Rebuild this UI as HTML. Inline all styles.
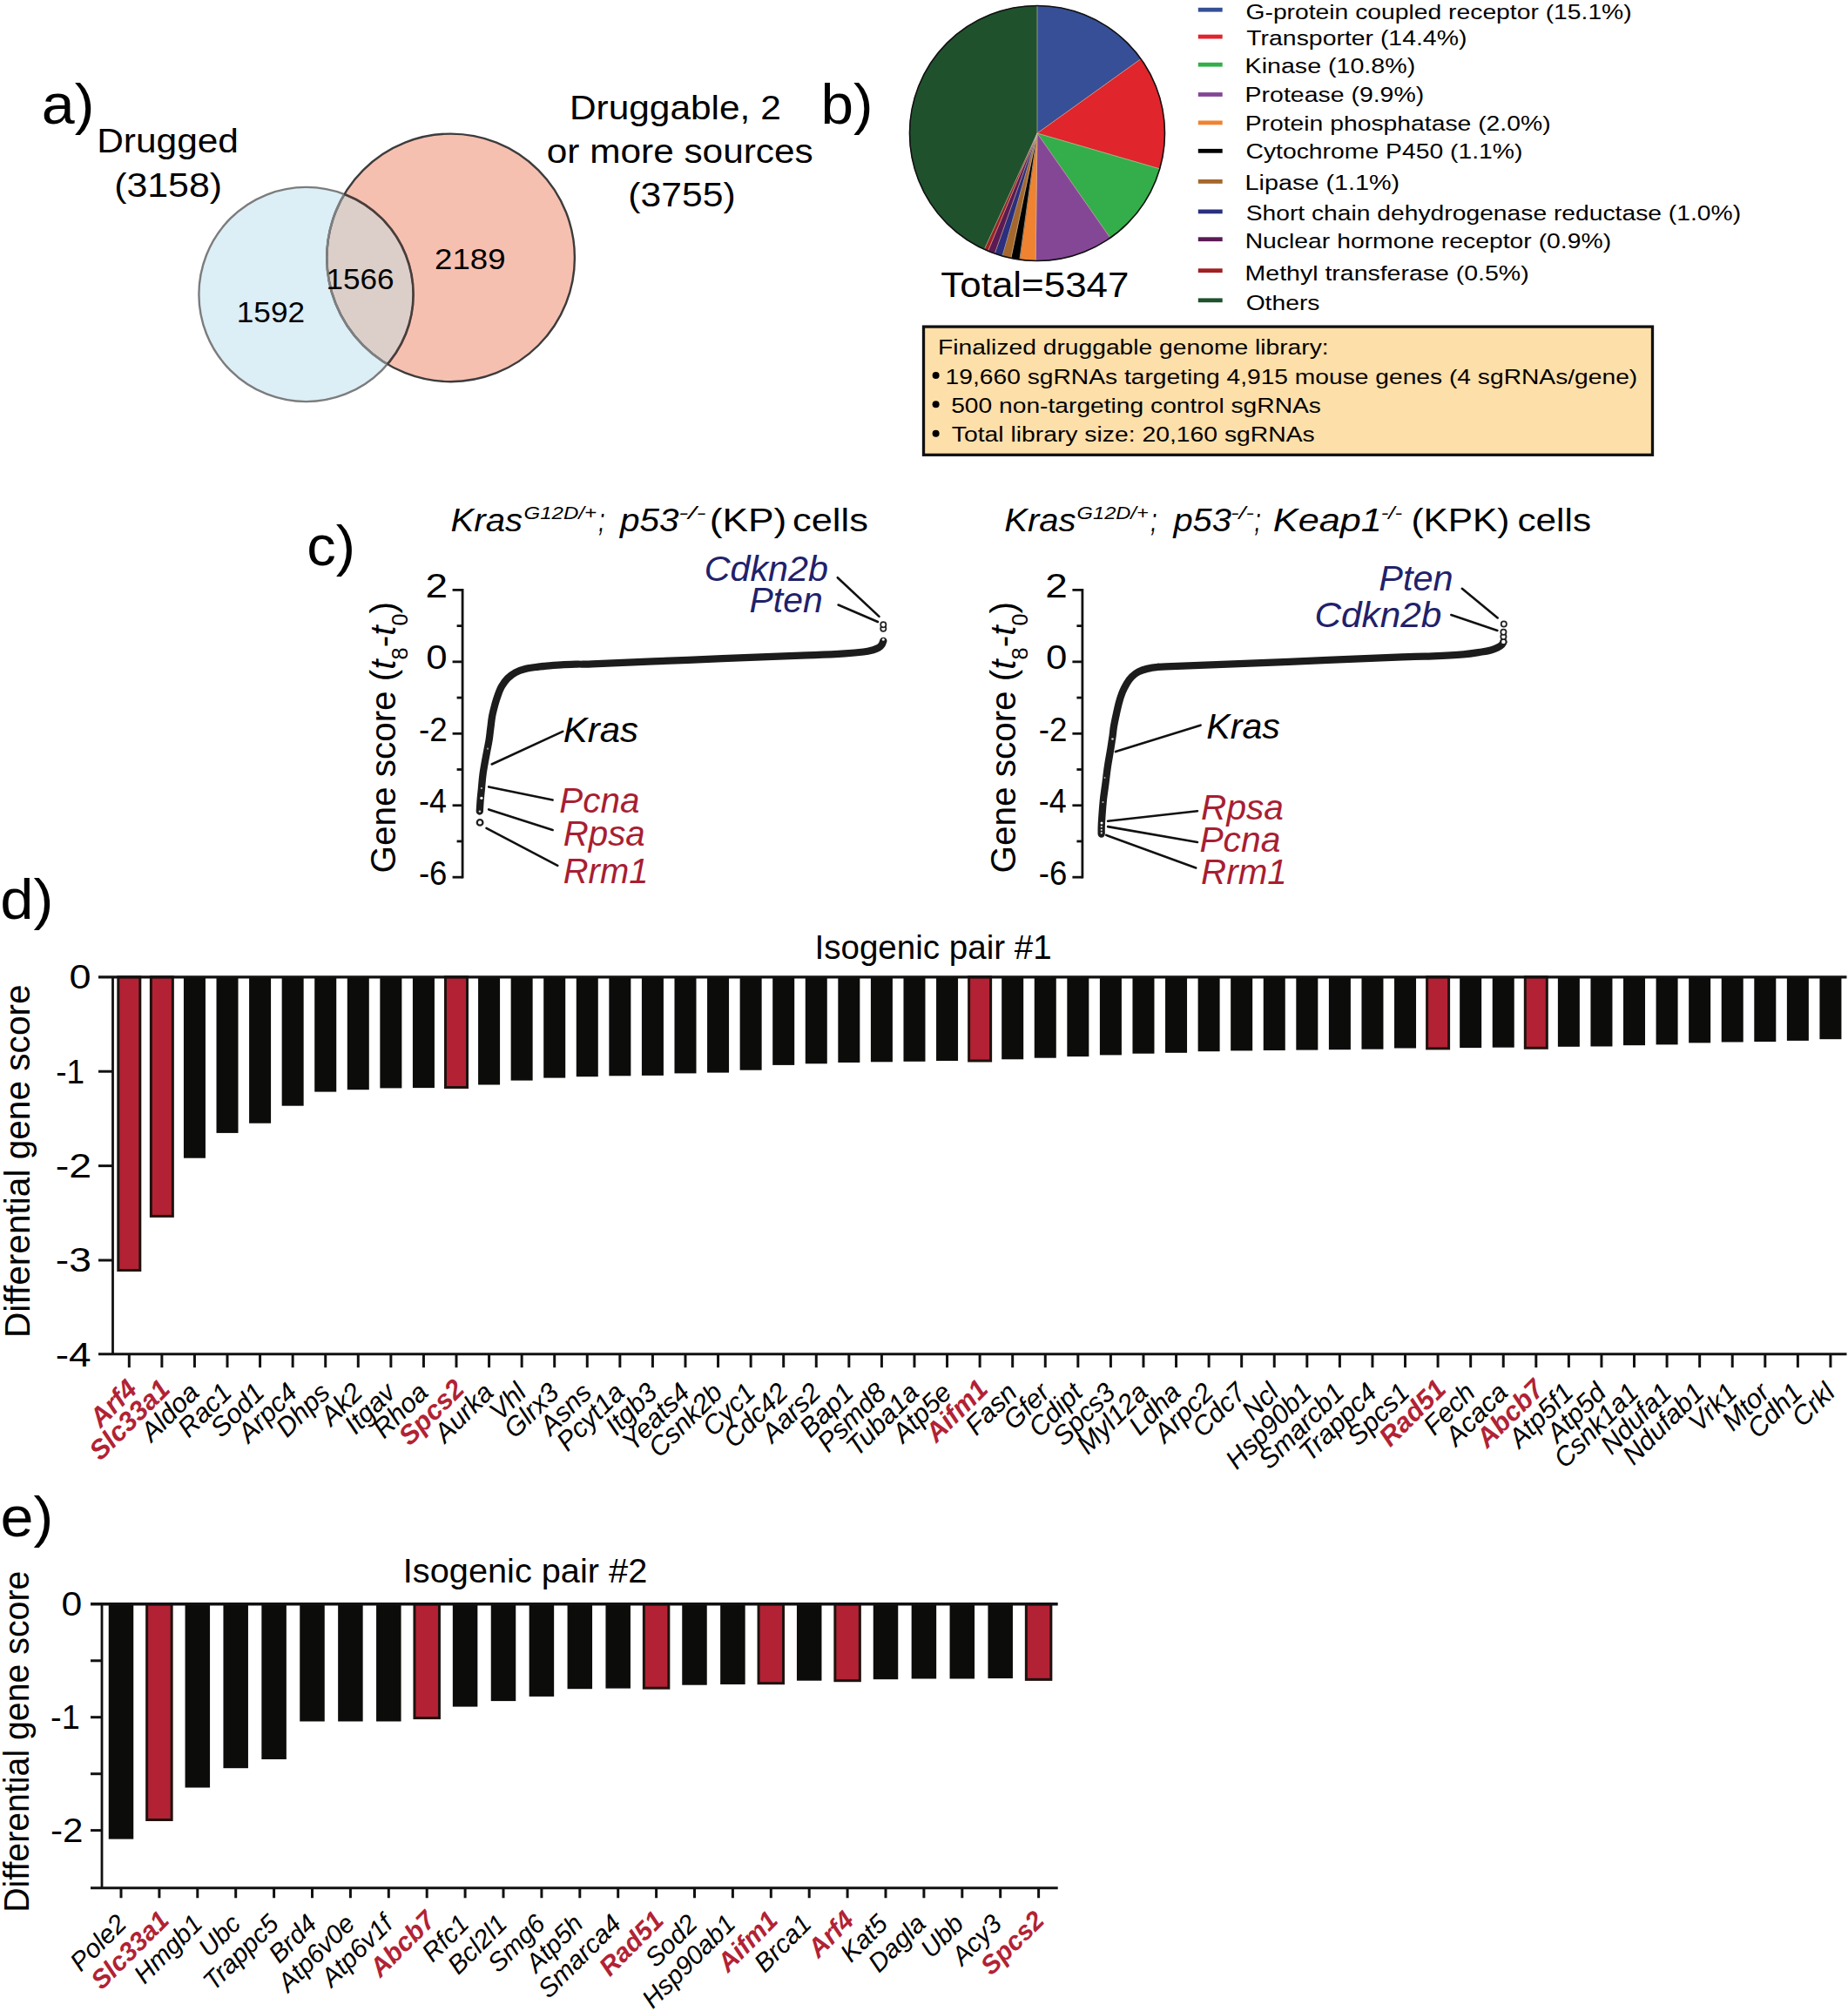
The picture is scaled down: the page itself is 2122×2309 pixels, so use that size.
<!DOCTYPE html>
<html lang="en"><head><meta charset="utf-8"><title>Figure</title>
<style>html,body{margin:0;padding:0;background:#fff}svg{display:block}text{font-family:"Liberation Sans",sans-serif}</style>
</head><body>
<svg width="2122" height="2309" viewBox="0 0 2122 2309">
<rect width="2122" height="2309" fill="#fff"/>
<text transform="translate(47.80 141.80) scale(1.0649 1)" font-size="64">a)</text>
<text transform="translate(111.21 175.30) scale(1.0798 1)" font-size="39.3">Drugged</text>
<text transform="translate(131.13 225.90) scale(1.0913 1)" font-size="39.3">(3158)</text>
<text transform="translate(653.91 137.00) scale(1.0796 1)" font-size="39.3">Druggable, 2</text>
<text transform="translate(627.81 187.00) scale(1.0776 1)" font-size="39.3">or more sources</text>
<text transform="translate(721.34 237.00) scale(1.0849 1)" font-size="39.3">(3755)</text>
<clipPath id="cb"><circle cx="351.5" cy="338" r="123.1"/></clipPath>
<clipPath id="cr"><circle cx="517.6" cy="295.9" r="142.3"/></clipPath>
<circle cx="517.6" cy="295.9" r="142.3" fill="#f6c0b1"/>
<circle cx="351.5" cy="338" r="123.1" fill="#dceef6"/>
<circle cx="517.6" cy="295.9" r="142.3" fill="#dccfc9" clip-path="url(#cb)"/>
<circle cx="351.5" cy="338" r="123.1" fill="none" stroke="#7c7c7c" stroke-width="2.4"/>
<circle cx="517.6" cy="295.9" r="142.3" fill="none" stroke="#3c3c3c" stroke-width="2.4"/>
<circle cx="517.6" cy="295.9" r="142.3" fill="none" stroke="#7d7f80" stroke-width="2.6" clip-path="url(#cb)"/>
<circle cx="351.5" cy="338" r="123.1" fill="none" stroke="#4a3d3a" stroke-width="2.6" clip-path="url(#cr)"/>
<text transform="translate(271.76 370.30) scale(1.0568 1)" font-size="33.3">1592</text>
<text transform="translate(374.57 332.40) scale(1.0543 1)" font-size="33.3">1566</text>
<text transform="translate(499.07 309.10) scale(1.0996 1)" font-size="33.3">2189</text>
<text transform="translate(942.38 141.80) scale(1.0539 1)" font-size="64">b)</text>
<path d="M1191 153L1191.00 6.50A146.5 146.5 0 0 1 1310.06 67.64Z" fill="#364f96" stroke="#364f96" stroke-width="0.6"/>
<path d="M1191 153L1310.06 67.64A146.5 146.5 0 0 1 1331.68 193.87Z" fill="#e0252c" stroke="#e0252c" stroke-width="0.6"/>
<path d="M1191 153L1331.68 193.87A146.5 146.5 0 0 1 1274.86 273.12Z" fill="#34ae4a" stroke="#34ae4a" stroke-width="0.6"/>
<path d="M1191 153L1274.86 273.12A146.5 146.5 0 0 1 1189.16 299.49Z" fill="#844796" stroke="#844796" stroke-width="0.6"/>
<path d="M1191 153L1189.16 299.49A146.5 146.5 0 0 1 1170.81 298.10Z" fill="#f08331" stroke="#f08331" stroke-width="0.6"/>
<path d="M1191 153L1170.81 298.10A146.5 146.5 0 0 1 1160.84 296.36Z" fill="#000000" stroke="#000000" stroke-width="0.6"/>
<path d="M1191 153L1160.84 296.36A146.5 146.5 0 0 1 1151.01 293.94Z" fill="#a5672b" stroke="#a5672b" stroke-width="0.6"/>
<path d="M1191 153L1151.01 293.94A146.5 146.5 0 0 1 1142.24 291.15Z" fill="#2a2f7e" stroke="#2a2f7e" stroke-width="0.6"/>
<path d="M1191 153L1142.24 291.15A146.5 146.5 0 0 1 1134.51 288.17Z" fill="#5c1a54" stroke="#5c1a54" stroke-width="0.6"/>
<path d="M1191 153L1134.51 288.17A146.5 146.5 0 0 1 1130.29 286.33Z" fill="#a02024" stroke="#a02024" stroke-width="0.6"/>
<path d="M1191 153L1130.29 286.33A146.5 146.5 0 0 1 1191.00 6.50Z" fill="#20512d" stroke="#20512d" stroke-width="0.6"/>
<line x1="1191" y1="153" x2="1191.00" y2="6.50" stroke="#c9b9a0" stroke-width="0.7"/>
<line x1="1191" y1="153" x2="1310.06" y2="67.64" stroke="#c9b9a0" stroke-width="0.7"/>
<line x1="1191" y1="153" x2="1331.68" y2="193.87" stroke="#c9b9a0" stroke-width="0.7"/>
<line x1="1191" y1="153" x2="1274.86" y2="273.12" stroke="#c9b9a0" stroke-width="0.7"/>
<line x1="1191" y1="153" x2="1189.16" y2="299.49" stroke="#c9b9a0" stroke-width="0.7"/>
<line x1="1191" y1="153" x2="1170.81" y2="298.10" stroke="#c9b9a0" stroke-width="0.7"/>
<line x1="1191" y1="153" x2="1160.84" y2="296.36" stroke="#c9b9a0" stroke-width="0.7"/>
<line x1="1191" y1="153" x2="1151.01" y2="293.94" stroke="#c9b9a0" stroke-width="0.7"/>
<line x1="1191" y1="153" x2="1142.24" y2="291.15" stroke="#c9b9a0" stroke-width="0.7"/>
<line x1="1191" y1="153" x2="1134.51" y2="288.17" stroke="#c9b9a0" stroke-width="0.7"/>
<line x1="1191" y1="153" x2="1130.29" y2="286.33" stroke="#c9b9a0" stroke-width="0.7"/>
<circle cx="1191" cy="153" r="146.5" fill="none" stroke="#111" stroke-width="1.6"/>
<text transform="translate(1080.32 340.90) scale(1.0769 1)" font-size="40.8">Total=5347</text>
<rect x="1375.8" y="8.8" width="27.9" height="4.8" fill="#364f96"/>
<text transform="translate(1430.49 21.80) scale(1.1638 1)" font-size="24.3">G-protein coupled receptor (15.1%)</text>
<rect x="1375.8" y="39.7" width="27.9" height="4.8" fill="#e0252c"/>
<text transform="translate(1431.33 52.10) scale(1.1689 1)" font-size="24.3">Transporter (14.4%)</text>
<rect x="1375.8" y="71.8" width="27.9" height="4.8" fill="#34ae4a"/>
<text transform="translate(1429.61 83.90) scale(1.1779 1)" font-size="24.3">Kinase (10.8%)</text>
<rect x="1375.8" y="106.1" width="27.9" height="4.8" fill="#844796"/>
<text transform="translate(1429.62 116.70) scale(1.1715 1)" font-size="24.3">Protease (9.9%)</text>
<rect x="1375.8" y="138.5" width="27.9" height="4.8" fill="#f08331"/>
<text transform="translate(1429.63 150.00) scale(1.1657 1)" font-size="24.3">Protein phosphatase (2.0%)</text>
<rect x="1375.8" y="170.9" width="27.9" height="4.8" fill="#000"/>
<text transform="translate(1430.48 181.80) scale(1.1664 1)" font-size="24.3">Cytochrome P450 (1.1%)</text>
<rect x="1375.8" y="206.0" width="27.9" height="4.8" fill="#a5672b"/>
<text transform="translate(1429.60 217.90) scale(1.1847 1)" font-size="24.3">Lipase (1.1%)</text>
<rect x="1375.8" y="240.5" width="27.9" height="4.8" fill="#2a2f7e"/>
<text transform="translate(1430.63 252.70) scale(1.1628 1)" font-size="24.3">Short chain dehydrogenase reductase (1.0%)</text>
<rect x="1375.8" y="272.3" width="27.9" height="4.8" fill="#5c1a54"/>
<text transform="translate(1429.63 285.30) scale(1.1665 1)" font-size="24.3">Nuclear hormone receptor (0.9%)</text>
<rect x="1375.8" y="308.3" width="27.9" height="4.8" fill="#a02024"/>
<text transform="translate(1429.62 322.00) scale(1.1719 1)" font-size="24.3">Methyl transferase (0.5%)</text>
<rect x="1375.8" y="342.4" width="27.9" height="4.8" fill="#20512d"/>
<text transform="translate(1430.63 356.10) scale(1.1641 1)" font-size="24.3">Others</text>
<rect x="1060.5" y="375.1" width="837" height="147.2" fill="#fddfa9" stroke="#111" stroke-width="3.3"/>
<text transform="translate(1076.94 406.90) scale(1.1525 1)" font-size="24.5">Finalized druggable genome library:</text>
<circle cx="1074.6" cy="430.9" r="4" fill="#000"/>
<circle cx="1074.6" cy="464.2" r="4" fill="#000"/>
<circle cx="1074.6" cy="497.79999999999995" r="4" fill="#000"/>
<text transform="translate(1085.58 440.50) scale(1.1515 1)" font-size="24.5">19,660 sgRNAs targeting 4,915 mouse genes (4 sgRNAs/gene)</text>
<text transform="translate(1092.17 473.80) scale(1.1515 1)" font-size="24.5">500 non-targeting control sgRNAs</text>
<text transform="translate(1092.73 507.40) scale(1.1562 1)" font-size="24.5">Total library size: 20,160 sgRNAs</text>
<text transform="translate(352.35 648.70) scale(1.0467 1)" font-size="64">c)</text>
<text transform="translate(517.60 609.60) scale(1.0735 1)" font-size="37.4" font-style="italic">Kras</text>
<text transform="translate(601.56 595.90) scale(1.1454 1)" font-size="21" font-style="italic">G12D/+</text>
<text transform="translate(687.25 609.60) scale(0.6817 1)" font-size="37.4" font-style="italic">;</text>
<text transform="translate(712.11 609.60) scale(1.0822 1)" font-size="37.4" font-style="italic">p53</text>
<text transform="translate(779.23 595.90) scale(1.5882 1)" font-size="21" font-style="italic">-/-</text>
<text transform="translate(814.74 609.60) scale(1.1847 1)" font-size="37.4">(KP)</text>
<text transform="translate(909.95 609.60) scale(1.1627 1)" font-size="37.4">cells</text>
<path d="M531.1 676.0V1008.6" stroke="#111" stroke-width="2.8" fill="none"/>
<line x1="519.6" y1="677.40" x2="531.1" y2="677.40" stroke="#111" stroke-width="2.8"/>
<text transform="translate(488.50 685.70) scale(1.1770 1)" font-size="39">2</text>
<line x1="524.6" y1="718.62" x2="531.1" y2="718.62" stroke="#111" stroke-width="2.8"/>
<line x1="519.6" y1="759.85" x2="531.1" y2="759.85" stroke="#111" stroke-width="2.8"/>
<text transform="translate(489.16 768.15) scale(1.1218 1)" font-size="39">0</text>
<line x1="524.6" y1="801.08" x2="531.1" y2="801.08" stroke="#111" stroke-width="2.8"/>
<line x1="519.6" y1="842.30" x2="531.1" y2="842.30" stroke="#111" stroke-width="2.8"/>
<text transform="translate(480.94 850.60) scale(0.9420 1)" font-size="39">-2</text>
<line x1="524.6" y1="883.53" x2="531.1" y2="883.53" stroke="#111" stroke-width="2.8"/>
<line x1="519.6" y1="924.75" x2="531.1" y2="924.75" stroke="#111" stroke-width="2.8"/>
<text transform="translate(480.98 933.05) scale(0.9190 1)" font-size="39">-4</text>
<line x1="524.6" y1="965.98" x2="531.1" y2="965.98" stroke="#111" stroke-width="2.8"/>
<line x1="519.6" y1="1007.20" x2="531.1" y2="1007.20" stroke="#111" stroke-width="2.8"/>
<text transform="translate(480.95 1015.50) scale(0.9362 1)" font-size="39">-6</text>
<text transform="translate(453.8 1002.6) rotate(-90) scale(1.012 1)" font-size="40">Gene score (<tspan font-style="italic">t</tspan><tspan font-size="25" dy="14">8</tspan><tspan dy="-14">-</tspan><tspan font-style="italic">t</tspan><tspan font-size="25" dy="14">0</tspan><tspan dy="-14">)</tspan></text>
<path d="M550.8 931.5C550.9 929.2 551.4 921.8 551.7 917.5C552.1 913.2 552.4 910.6 552.9 905.6C553.4 900.6 553.7 894.7 554.7 887.7C555.7 880.8 557.7 870.4 558.9 863.9C560.1 857.4 561.0 853.6 561.7 849.0C562.4 844.4 562.7 840.5 563.3 836.1C563.9 831.7 564.3 827.1 565.1 822.6C565.9 818.1 567.2 813.3 568.3 809.2C569.4 805.1 570.5 801.6 571.8 798.0C573.1 794.4 574.4 790.9 576.3 787.7C578.2 784.5 580.4 781.4 583.0 778.8C585.6 776.2 588.6 773.9 592.0 772.1C595.4 770.3 599.1 769.2 603.2 768.1C607.3 767.0 613.0 766.3 616.6 765.8C620.2 765.3 620.4 765.3 625.0 764.9C629.6 764.5 637.9 763.8 644.4 763.4C650.9 763.0 658.0 762.8 663.9 762.6C669.8 762.4 659.0 763.1 680.0 762.3C701.0 761.5 753.3 759.3 790.0 757.8C826.7 756.3 875.8 754.3 900.0 753.4C924.2 752.5 923.5 752.6 935.2 752.1C946.9 751.6 960.9 750.9 970.3 750.3C979.7 749.7 986.1 749.1 991.4 748.5C996.7 747.9 999.1 747.2 1002.0 746.4C1004.9 745.6 1007.2 744.6 1009.0 743.6C1010.8 742.6 1011.7 741.4 1012.6 740.1C1013.5 738.8 1014.0 736.6 1014.3 735.9" fill="none" stroke="#1c1c1c" stroke-width="8.3" stroke-linejoin="round" stroke-linecap="round"/>
<circle cx="560" cy="859.7" r="1.1" fill="#999"/>
<circle cx="552.9" cy="905" r="1.1" fill="#bbb"/>
<circle cx="552.9" cy="916.3" r="1.6" fill="#fff"/>
<circle cx="550.9" cy="931.6" r="1.2" fill="#ddd"/>
<circle cx="1014.3" cy="734.2" r="1.5" fill="#eee"/>
<circle cx="551.1" cy="944.4" r="3.3" fill="#fff" stroke="#222" stroke-width="2.3"/>
<circle cx="1014.3" cy="721.8" r="3.1" fill="#fff" stroke="#222" stroke-width="1.8"/>
<circle cx="1014.3" cy="717.2" r="3.1" fill="#fff" stroke="#222" stroke-width="1.8"/>
<line x1="961.8" y1="663.2" x2="1009.5" y2="707.9" stroke="#111" stroke-width="2.6" stroke-linecap="round"/>
<line x1="962.6" y1="694.5" x2="1008" y2="714" stroke="#111" stroke-width="2.6" stroke-linecap="round"/>
<text transform="translate(808.73 667.00) scale(1.0312 1)" font-size="40" fill="#21216b" font-style="italic">Cdkn2b</text>
<text transform="translate(860.57 703.00) scale(1.0227 1)" font-size="40" fill="#21216b" font-style="italic">Pten</text>
<line x1="564.7" y1="877.5" x2="646.2" y2="839.9" stroke="#111" stroke-width="2.6" stroke-linecap="round"/>
<line x1="561.2" y1="903.4" x2="634.6" y2="918.6" stroke="#111" stroke-width="2.6" stroke-linecap="round"/>
<line x1="561.2" y1="929.4" x2="634.6" y2="953" stroke="#111" stroke-width="2.6" stroke-linecap="round"/>
<line x1="558.5" y1="950.9" x2="640.3" y2="993.8" stroke="#111" stroke-width="2.6" stroke-linecap="round"/>
<text transform="translate(646.74 851.50) scale(1.0486 1)" font-size="40" font-style="italic">Kras</text>
<text transform="translate(642.29 933.00) scale(1.0102 1)" font-size="40" fill="#a81e32" font-style="italic">Pcna</text>
<text transform="translate(646.79 970.90) scale(1.0055 1)" font-size="40" fill="#a81e32" font-style="italic">Rpsa</text>
<text transform="translate(646.80 1013.50) scale(0.9979 1)" font-size="40" fill="#a81e32" font-style="italic">Rrm1</text>
<text transform="translate(1153.20 609.60) scale(1.0709 1)" font-size="37.4" font-style="italic">Kras</text>
<text transform="translate(1236.58 595.90) scale(1.1271 1)" font-size="21" font-style="italic">G12D/+</text>
<text transform="translate(1321.35 609.60) scale(0.6817 1)" font-size="37.4" font-style="italic">;</text>
<text transform="translate(1347.40 609.60) scale(1.0648 1)" font-size="37.4" font-style="italic">p53</text>
<text transform="translate(1413.19 595.90) scale(1.3426 1)" font-size="21" font-style="italic">-/-</text>
<text transform="translate(1440.55 609.60) scale(0.6817 1)" font-size="37.4" font-style="italic">;</text>
<text transform="translate(1461.80 609.60) scale(1.1562 1)" font-size="37.4" font-style="italic">Keap1</text>
<text transform="translate(1585.70 595.90) scale(1.2389 1)" font-size="21" font-style="italic">-/-</text>
<text transform="translate(1620.46 609.60) scale(1.1325 1)" font-size="37.4">(KPK)</text>
<text transform="translate(1742.40 609.60) scale(1.1321 1)" font-size="37.4">cells</text>
<path d="M1242.9 676.0V1008.6" stroke="#111" stroke-width="2.8" fill="none"/>
<line x1="1231.4" y1="677.40" x2="1242.9" y2="677.40" stroke="#111" stroke-width="2.8"/>
<text transform="translate(1200.30 685.70) scale(1.1770 1)" font-size="39">2</text>
<line x1="1236.4" y1="718.62" x2="1242.9" y2="718.62" stroke="#111" stroke-width="2.8"/>
<line x1="1231.4" y1="759.85" x2="1242.9" y2="759.85" stroke="#111" stroke-width="2.8"/>
<text transform="translate(1200.96 768.15) scale(1.1218 1)" font-size="39">0</text>
<line x1="1236.4" y1="801.08" x2="1242.9" y2="801.08" stroke="#111" stroke-width="2.8"/>
<line x1="1231.4" y1="842.30" x2="1242.9" y2="842.30" stroke="#111" stroke-width="2.8"/>
<text transform="translate(1192.74 850.60) scale(0.9420 1)" font-size="39">-2</text>
<line x1="1236.4" y1="883.53" x2="1242.9" y2="883.53" stroke="#111" stroke-width="2.8"/>
<line x1="1231.4" y1="924.75" x2="1242.9" y2="924.75" stroke="#111" stroke-width="2.8"/>
<text transform="translate(1192.78 933.05) scale(0.9190 1)" font-size="39">-4</text>
<line x1="1236.4" y1="965.98" x2="1242.9" y2="965.98" stroke="#111" stroke-width="2.8"/>
<line x1="1231.4" y1="1007.20" x2="1242.9" y2="1007.20" stroke="#111" stroke-width="2.8"/>
<text transform="translate(1192.75 1015.50) scale(0.9362 1)" font-size="39">-6</text>
<text transform="translate(1165.6 1002.6) rotate(-90) scale(1.012 1)" font-size="40">Gene score (<tspan font-style="italic">t</tspan><tspan font-size="25" dy="14">8</tspan><tspan dy="-14">-</tspan><tspan font-style="italic">t</tspan><tspan font-size="25" dy="14">0</tspan><tspan dy="-14">)</tspan></text>
<path d="M1264.7 957.5C1264.7 956.2 1264.6 953.3 1264.7 949.9C1264.8 946.5 1265.0 942.4 1265.4 937.0C1265.8 931.6 1266.3 924.1 1267.0 917.6C1267.7 911.1 1268.8 904.7 1269.6 898.2C1270.4 891.7 1271.1 885.3 1272.1 878.8C1273.1 872.3 1274.5 865.0 1275.4 859.4C1276.3 853.8 1277.0 849.1 1277.6 845.0C1278.2 840.9 1278.2 838.7 1278.9 834.5C1279.6 830.3 1280.9 824.1 1281.9 819.6C1282.9 815.1 1283.7 811.3 1284.8 807.2C1285.9 803.1 1287.3 798.5 1288.8 794.8C1290.3 791.1 1292.0 787.8 1293.8 784.8C1295.6 781.8 1297.6 779.1 1299.8 776.9C1302.0 774.7 1304.3 772.9 1307.2 771.4C1310.1 769.9 1313.5 768.8 1317.2 767.9C1320.9 767.0 1325.0 766.3 1329.6 765.9C1334.2 765.5 1319.9 766.2 1345.0 765.2C1370.1 764.2 1435.8 761.6 1480.0 759.8C1524.2 758.0 1582.5 755.4 1610.0 754.3C1637.5 753.2 1633.5 753.9 1645.2 753.4C1656.9 752.9 1670.9 752.2 1680.3 751.4C1689.7 750.6 1696.2 749.3 1701.5 748.5C1706.8 747.7 1709.0 747.2 1712.0 746.4C1715.0 745.6 1717.6 744.6 1719.7 743.6C1721.8 742.6 1723.6 741.2 1724.7 740.1C1725.8 739.0 1726.1 737.5 1726.4 737.0" fill="none" stroke="#1c1c1c" stroke-width="8.3" stroke-linejoin="round" stroke-linecap="round"/>
<circle cx="1265" cy="945" r="1.5" fill="#fff"/>
<circle cx="1264.8" cy="949.2" r="1.1" fill="#ddd"/>
<circle cx="1264.8" cy="952.8" r="1.1" fill="#ddd"/>
<circle cx="1264.8" cy="956.4" r="1.1" fill="#ddd"/>
<circle cx="1277.5" cy="848.5" r="1.3" fill="#ccc"/>
<circle cx="1268.5" cy="893" r="1" fill="#aaa"/>
<circle cx="1266.5" cy="921" r="1.1" fill="#bbb"/>
<circle cx="1726.4" cy="736.9" r="3.1" fill="#fff" stroke="#222" stroke-width="1.8"/>
<circle cx="1726.4" cy="731" r="3.1" fill="#fff" stroke="#222" stroke-width="1.8"/>
<circle cx="1726.4" cy="725.7" r="3.1" fill="#fff" stroke="#222" stroke-width="1.8"/>
<circle cx="1726.8" cy="716.5" r="3.1" fill="#fff" stroke="#222" stroke-width="1.8"/>
<line x1="1678.8" y1="675.8" x2="1719.7" y2="709.4" stroke="#111" stroke-width="2.6" stroke-linecap="round"/>
<line x1="1666.3" y1="706" x2="1719.4" y2="723.9" stroke="#111" stroke-width="2.6" stroke-linecap="round"/>
<text transform="translate(1583.26 677.60) scale(1.0366 1)" font-size="40" fill="#21216b" font-style="italic">Pten</text>
<text transform="translate(1509.47 720.00) scale(1.0587 1)" font-size="40" fill="#21216b" font-style="italic">Cdkn2b</text>
<line x1="1281" y1="863.1" x2="1378.6" y2="832.7" stroke="#111" stroke-width="2.6" stroke-linecap="round"/>
<line x1="1272.1" y1="942.8" x2="1375" y2="931.2" stroke="#111" stroke-width="2.6" stroke-linecap="round"/>
<line x1="1272.1" y1="949.1" x2="1375" y2="967" stroke="#111" stroke-width="2.6" stroke-linecap="round"/>
<line x1="1270.3" y1="958.9" x2="1373.2" y2="996.5" stroke="#111" stroke-width="2.6" stroke-linecap="round"/>
<text transform="translate(1385.37 847.90) scale(1.0274 1)" font-size="40" font-style="italic">Kras</text>
<text transform="translate(1379.08 941.00) scale(1.0154 1)" font-size="40" fill="#a81e32" font-style="italic">Rpsa</text>
<text transform="translate(1377.38 977.70) scale(1.0203 1)" font-size="40" fill="#a81e32" font-style="italic">Pcna</text>
<text transform="translate(1379.09 1015.30) scale(1.0086 1)" font-size="40" fill="#a81e32" font-style="italic">Rrm1</text>
<text transform="translate(0.25 1054.50) scale(1.0734 1)" font-size="64">d)</text>
<text transform="translate(935.53 1101.30) scale(0.9782 1)" font-size="39.4">Isogenic pair #1</text>
<rect x="135.80" y="1121.8" width="25" height="336.7" fill="#b22234" stroke="#1f120f" stroke-width="3"/>
<line x1="148.30" y1="1554.7" x2="148.30" y2="1570.2" stroke="#111" stroke-width="3"/>
<text x="159.30" y="1596.70" font-size="31" text-anchor="end" fill="#b22234" font-style="italic" font-weight="bold" transform="rotate(-45 159.30 1596.70)">Arf4</text>
<rect x="173.37" y="1121.8" width="25" height="274.6" fill="#b22234" stroke="#1f120f" stroke-width="3"/>
<line x1="185.87" y1="1554.7" x2="185.87" y2="1570.2" stroke="#111" stroke-width="3"/>
<text x="196.87" y="1596.70" font-size="31" text-anchor="end" fill="#b22234" font-style="italic" font-weight="bold" transform="rotate(-45 196.87 1596.70)">Slc33a1</text>
<rect x="210.94" y="1121.8" width="25" height="207.9" fill="#0c0d0a"/>
<line x1="223.44" y1="1554.7" x2="223.44" y2="1570.2" stroke="#111" stroke-width="3"/>
<text x="230.44" y="1600.70" font-size="31" text-anchor="end" font-style="italic" transform="rotate(-45 230.44 1600.70)">Aldoa</text>
<rect x="248.51" y="1121.8" width="25" height="179.1" fill="#0c0d0a"/>
<line x1="261.01" y1="1554.7" x2="261.01" y2="1570.2" stroke="#111" stroke-width="3"/>
<text x="268.01" y="1600.70" font-size="31" text-anchor="end" font-style="italic" transform="rotate(-45 268.01 1600.70)">Rac1</text>
<rect x="286.08" y="1121.8" width="25" height="167.9" fill="#0c0d0a"/>
<line x1="298.58" y1="1554.7" x2="298.58" y2="1570.2" stroke="#111" stroke-width="3"/>
<text x="305.58" y="1600.70" font-size="31" text-anchor="end" font-style="italic" transform="rotate(-45 305.58 1600.70)">Sod1</text>
<rect x="323.65" y="1121.8" width="25" height="147.9" fill="#0c0d0a"/>
<line x1="336.15" y1="1554.7" x2="336.15" y2="1570.2" stroke="#111" stroke-width="3"/>
<text x="343.15" y="1600.70" font-size="31" text-anchor="end" font-style="italic" transform="rotate(-45 343.15 1600.70)">Arpc4</text>
<rect x="361.22" y="1121.8" width="25" height="131.8" fill="#0c0d0a"/>
<line x1="373.72" y1="1554.7" x2="373.72" y2="1570.2" stroke="#111" stroke-width="3"/>
<text x="380.72" y="1600.70" font-size="31" text-anchor="end" font-style="italic" transform="rotate(-45 380.72 1600.70)">Dhps</text>
<rect x="398.79" y="1121.8" width="25" height="129.4" fill="#0c0d0a"/>
<line x1="411.29" y1="1554.7" x2="411.29" y2="1570.2" stroke="#111" stroke-width="3"/>
<text x="418.29" y="1600.70" font-size="31" text-anchor="end" font-style="italic" transform="rotate(-45 418.29 1600.70)">Ak2</text>
<rect x="436.36" y="1121.8" width="25" height="127.6" fill="#0c0d0a"/>
<line x1="448.86" y1="1554.7" x2="448.86" y2="1570.2" stroke="#111" stroke-width="3"/>
<text x="455.86" y="1600.70" font-size="31" text-anchor="end" font-style="italic" transform="rotate(-45 455.86 1600.70)">Itgav</text>
<rect x="473.93" y="1121.8" width="25" height="127.3" fill="#0c0d0a"/>
<line x1="486.43" y1="1554.7" x2="486.43" y2="1570.2" stroke="#111" stroke-width="3"/>
<text x="493.43" y="1600.70" font-size="31" text-anchor="end" font-style="italic" transform="rotate(-45 493.43 1600.70)">Rhoa</text>
<rect x="511.50" y="1121.8" width="25" height="126.7" fill="#b22234" stroke="#1f120f" stroke-width="3"/>
<line x1="524.00" y1="1554.7" x2="524.00" y2="1570.2" stroke="#111" stroke-width="3"/>
<text x="535.00" y="1596.70" font-size="31" text-anchor="end" fill="#b22234" font-style="italic" font-weight="bold" transform="rotate(-45 535.00 1596.70)">Spcs2</text>
<rect x="549.07" y="1121.8" width="25" height="123.7" fill="#0c0d0a"/>
<line x1="561.57" y1="1554.7" x2="561.57" y2="1570.2" stroke="#111" stroke-width="3"/>
<text x="568.57" y="1600.70" font-size="31" text-anchor="end" font-style="italic" transform="rotate(-45 568.57 1600.70)">Aurka</text>
<rect x="586.64" y="1121.8" width="25" height="118.8" fill="#0c0d0a"/>
<line x1="599.14" y1="1554.7" x2="599.14" y2="1570.2" stroke="#111" stroke-width="3"/>
<text x="606.14" y="1600.70" font-size="31" text-anchor="end" font-style="italic" transform="rotate(-45 606.14 1600.70)">Vhl</text>
<rect x="624.21" y="1121.8" width="25" height="115.8" fill="#0c0d0a"/>
<line x1="636.71" y1="1554.7" x2="636.71" y2="1570.2" stroke="#111" stroke-width="3"/>
<text x="643.71" y="1600.70" font-size="31" text-anchor="end" font-style="italic" transform="rotate(-45 643.71 1600.70)">Glrx3</text>
<rect x="661.78" y="1121.8" width="25" height="114.4" fill="#0c0d0a"/>
<line x1="674.28" y1="1554.7" x2="674.28" y2="1570.2" stroke="#111" stroke-width="3"/>
<text x="681.28" y="1600.70" font-size="31" text-anchor="end" font-style="italic" transform="rotate(-45 681.28 1600.70)">Asns</text>
<rect x="699.35" y="1121.8" width="25" height="113.5" fill="#0c0d0a"/>
<line x1="711.85" y1="1554.7" x2="711.85" y2="1570.2" stroke="#111" stroke-width="3"/>
<text x="718.85" y="1600.70" font-size="31" text-anchor="end" font-style="italic" transform="rotate(-45 718.85 1600.70)">Pcyt1a</text>
<rect x="736.92" y="1121.8" width="25" height="113.1" fill="#0c0d0a"/>
<line x1="749.42" y1="1554.7" x2="749.42" y2="1570.2" stroke="#111" stroke-width="3"/>
<text x="756.42" y="1600.70" font-size="31" text-anchor="end" font-style="italic" transform="rotate(-45 756.42 1600.70)">Itgb3</text>
<rect x="774.49" y="1121.8" width="25" height="110.6" fill="#0c0d0a"/>
<line x1="786.99" y1="1554.7" x2="786.99" y2="1570.2" stroke="#111" stroke-width="3"/>
<text x="793.99" y="1600.70" font-size="31" text-anchor="end" font-style="italic" transform="rotate(-45 793.99 1600.70)">Yeats4</text>
<rect x="812.06" y="1121.8" width="25" height="109.8" fill="#0c0d0a"/>
<line x1="824.56" y1="1554.7" x2="824.56" y2="1570.2" stroke="#111" stroke-width="3"/>
<text x="831.56" y="1600.70" font-size="31" text-anchor="end" font-style="italic" transform="rotate(-45 831.56 1600.70)">Csnk2b</text>
<rect x="849.63" y="1121.8" width="25" height="106.9" fill="#0c0d0a"/>
<line x1="862.13" y1="1554.7" x2="862.13" y2="1570.2" stroke="#111" stroke-width="3"/>
<text x="869.13" y="1600.70" font-size="31" text-anchor="end" font-style="italic" transform="rotate(-45 869.13 1600.70)">Cyc1</text>
<rect x="887.20" y="1121.8" width="25" height="101.1" fill="#0c0d0a"/>
<line x1="899.70" y1="1554.7" x2="899.70" y2="1570.2" stroke="#111" stroke-width="3"/>
<text x="906.70" y="1600.70" font-size="31" text-anchor="end" font-style="italic" transform="rotate(-45 906.70 1600.70)">Cdc42</text>
<rect x="924.77" y="1121.8" width="25" height="99.5" fill="#0c0d0a"/>
<line x1="937.27" y1="1554.7" x2="937.27" y2="1570.2" stroke="#111" stroke-width="3"/>
<text x="944.27" y="1600.70" font-size="31" text-anchor="end" font-style="italic" transform="rotate(-45 944.27 1600.70)">Aars2</text>
<rect x="962.34" y="1121.8" width="25" height="98.2" fill="#0c0d0a"/>
<line x1="974.84" y1="1554.7" x2="974.84" y2="1570.2" stroke="#111" stroke-width="3"/>
<text x="981.84" y="1600.70" font-size="31" text-anchor="end" font-style="italic" transform="rotate(-45 981.84 1600.70)">Bap1</text>
<rect x="999.91" y="1121.8" width="25" height="97.5" fill="#0c0d0a"/>
<line x1="1012.41" y1="1554.7" x2="1012.41" y2="1570.2" stroke="#111" stroke-width="3"/>
<text x="1019.41" y="1600.70" font-size="31" text-anchor="end" font-style="italic" transform="rotate(-45 1019.41 1600.70)">Psmd8</text>
<rect x="1037.48" y="1121.8" width="25" height="97.0" fill="#0c0d0a"/>
<line x1="1049.98" y1="1554.7" x2="1049.98" y2="1570.2" stroke="#111" stroke-width="3"/>
<text x="1056.98" y="1600.70" font-size="31" text-anchor="end" font-style="italic" transform="rotate(-45 1056.98 1600.70)">Tuba1a</text>
<rect x="1075.05" y="1121.8" width="25" height="96.2" fill="#0c0d0a"/>
<line x1="1087.55" y1="1554.7" x2="1087.55" y2="1570.2" stroke="#111" stroke-width="3"/>
<text x="1094.55" y="1600.70" font-size="31" text-anchor="end" font-style="italic" transform="rotate(-45 1094.55 1600.70)">Atp5e</text>
<rect x="1112.62" y="1121.8" width="25" height="96.2" fill="#b22234" stroke="#1f120f" stroke-width="3"/>
<line x1="1125.12" y1="1554.7" x2="1125.12" y2="1570.2" stroke="#111" stroke-width="3"/>
<text x="1136.12" y="1596.70" font-size="31" text-anchor="end" fill="#b22234" font-style="italic" font-weight="bold" transform="rotate(-45 1136.12 1596.70)">Aifm1</text>
<rect x="1150.19" y="1121.8" width="25" height="94.5" fill="#0c0d0a"/>
<line x1="1162.69" y1="1554.7" x2="1162.69" y2="1570.2" stroke="#111" stroke-width="3"/>
<text x="1169.69" y="1600.70" font-size="31" text-anchor="end" font-style="italic" transform="rotate(-45 1169.69 1600.70)">Fasn</text>
<rect x="1187.76" y="1121.8" width="25" height="92.9" fill="#0c0d0a"/>
<line x1="1200.26" y1="1554.7" x2="1200.26" y2="1570.2" stroke="#111" stroke-width="3"/>
<text x="1207.26" y="1600.70" font-size="31" text-anchor="end" font-style="italic" transform="rotate(-45 1207.26 1600.70)">Gfer</text>
<rect x="1225.33" y="1121.8" width="25" height="91.3" fill="#0c0d0a"/>
<line x1="1237.83" y1="1554.7" x2="1237.83" y2="1570.2" stroke="#111" stroke-width="3"/>
<text x="1244.83" y="1600.70" font-size="31" text-anchor="end" font-style="italic" transform="rotate(-45 1244.83 1600.70)">Cdipt</text>
<rect x="1262.90" y="1121.8" width="25" height="89.6" fill="#0c0d0a"/>
<line x1="1275.40" y1="1554.7" x2="1275.40" y2="1570.2" stroke="#111" stroke-width="3"/>
<text x="1282.40" y="1600.70" font-size="31" text-anchor="end" font-style="italic" transform="rotate(-45 1282.40 1600.70)">Spcs3</text>
<rect x="1300.47" y="1121.8" width="25" height="87.9" fill="#0c0d0a"/>
<line x1="1312.97" y1="1554.7" x2="1312.97" y2="1570.2" stroke="#111" stroke-width="3"/>
<text x="1319.97" y="1600.70" font-size="31" text-anchor="end" font-style="italic" transform="rotate(-45 1319.97 1600.70)">Myl12a</text>
<rect x="1338.04" y="1121.8" width="25" height="87.0" fill="#0c0d0a"/>
<line x1="1350.54" y1="1554.7" x2="1350.54" y2="1570.2" stroke="#111" stroke-width="3"/>
<text x="1357.54" y="1600.70" font-size="31" text-anchor="end" font-style="italic" transform="rotate(-45 1357.54 1600.70)">Ldha</text>
<rect x="1375.61" y="1121.8" width="25" height="85.4" fill="#0c0d0a"/>
<line x1="1388.11" y1="1554.7" x2="1388.11" y2="1570.2" stroke="#111" stroke-width="3"/>
<text x="1395.11" y="1600.70" font-size="31" text-anchor="end" font-style="italic" transform="rotate(-45 1395.11 1600.70)">Arpc2</text>
<rect x="1413.18" y="1121.8" width="25" height="84.6" fill="#0c0d0a"/>
<line x1="1425.68" y1="1554.7" x2="1425.68" y2="1570.2" stroke="#111" stroke-width="3"/>
<text x="1432.68" y="1600.70" font-size="31" text-anchor="end" font-style="italic" transform="rotate(-45 1432.68 1600.70)">Cdc7</text>
<rect x="1450.75" y="1121.8" width="25" height="84.2" fill="#0c0d0a"/>
<line x1="1463.25" y1="1554.7" x2="1463.25" y2="1570.2" stroke="#111" stroke-width="3"/>
<text x="1470.25" y="1600.70" font-size="31" text-anchor="end" font-style="italic" transform="rotate(-45 1470.25 1600.70)">Ncl</text>
<rect x="1488.32" y="1121.8" width="25" height="83.8" fill="#0c0d0a"/>
<line x1="1500.82" y1="1554.7" x2="1500.82" y2="1570.2" stroke="#111" stroke-width="3"/>
<text x="1507.82" y="1600.70" font-size="31" text-anchor="end" font-style="italic" transform="rotate(-45 1507.82 1600.70)">Hsp90b1</text>
<rect x="1525.89" y="1121.8" width="25" height="83.4" fill="#0c0d0a"/>
<line x1="1538.39" y1="1554.7" x2="1538.39" y2="1570.2" stroke="#111" stroke-width="3"/>
<text x="1545.39" y="1600.70" font-size="31" text-anchor="end" font-style="italic" transform="rotate(-45 1545.39 1600.70)">Smarcb1</text>
<rect x="1563.46" y="1121.8" width="25" height="82.9" fill="#0c0d0a"/>
<line x1="1575.96" y1="1554.7" x2="1575.96" y2="1570.2" stroke="#111" stroke-width="3"/>
<text x="1582.96" y="1600.70" font-size="31" text-anchor="end" font-style="italic" transform="rotate(-45 1582.96 1600.70)">Trappc4</text>
<rect x="1601.03" y="1121.8" width="25" height="81.7" fill="#0c0d0a"/>
<line x1="1613.53" y1="1554.7" x2="1613.53" y2="1570.2" stroke="#111" stroke-width="3"/>
<text x="1620.53" y="1600.70" font-size="31" text-anchor="end" font-style="italic" transform="rotate(-45 1620.53 1600.70)">Spcs1</text>
<rect x="1638.60" y="1121.8" width="25" height="82.1" fill="#b22234" stroke="#1f120f" stroke-width="3"/>
<line x1="1651.10" y1="1554.7" x2="1651.10" y2="1570.2" stroke="#111" stroke-width="3"/>
<text x="1662.10" y="1596.70" font-size="31" text-anchor="end" fill="#b22234" font-style="italic" font-weight="bold" transform="rotate(-45 1662.10 1596.70)">Rad51</text>
<rect x="1676.17" y="1121.8" width="25" height="81.3" fill="#0c0d0a"/>
<line x1="1688.67" y1="1554.7" x2="1688.67" y2="1570.2" stroke="#111" stroke-width="3"/>
<text x="1695.67" y="1600.70" font-size="31" text-anchor="end" font-style="italic" transform="rotate(-45 1695.67 1600.70)">Fech</text>
<rect x="1713.74" y="1121.8" width="25" height="80.9" fill="#0c0d0a"/>
<line x1="1726.24" y1="1554.7" x2="1726.24" y2="1570.2" stroke="#111" stroke-width="3"/>
<text x="1733.24" y="1600.70" font-size="31" text-anchor="end" font-style="italic" transform="rotate(-45 1733.24 1600.70)">Acaca</text>
<rect x="1751.31" y="1121.8" width="25" height="81.5" fill="#b22234" stroke="#1f120f" stroke-width="3"/>
<line x1="1763.81" y1="1554.7" x2="1763.81" y2="1570.2" stroke="#111" stroke-width="3"/>
<text x="1774.81" y="1596.70" font-size="31" text-anchor="end" fill="#b22234" font-style="italic" font-weight="bold" transform="rotate(-45 1774.81 1596.70)">Abcb7</text>
<rect x="1788.88" y="1121.8" width="25" height="80.0" fill="#0c0d0a"/>
<line x1="1801.38" y1="1554.7" x2="1801.38" y2="1570.2" stroke="#111" stroke-width="3"/>
<text x="1808.38" y="1600.70" font-size="31" text-anchor="end" font-style="italic" transform="rotate(-45 1808.38 1600.70)">Atp5f1</text>
<rect x="1826.45" y="1121.8" width="25" height="79.7" fill="#0c0d0a"/>
<line x1="1838.95" y1="1554.7" x2="1838.95" y2="1570.2" stroke="#111" stroke-width="3"/>
<text x="1845.95" y="1600.70" font-size="31" text-anchor="end" font-style="italic" transform="rotate(-45 1845.95 1600.70)">Atp5d</text>
<rect x="1864.02" y="1121.8" width="25" height="78.4" fill="#0c0d0a"/>
<line x1="1876.52" y1="1554.7" x2="1876.52" y2="1570.2" stroke="#111" stroke-width="3"/>
<text x="1883.52" y="1600.70" font-size="31" text-anchor="end" font-style="italic" transform="rotate(-45 1883.52 1600.70)">Csnk1a1</text>
<rect x="1901.59" y="1121.8" width="25" height="77.6" fill="#0c0d0a"/>
<line x1="1914.09" y1="1554.7" x2="1914.09" y2="1570.2" stroke="#111" stroke-width="3"/>
<text x="1921.09" y="1600.70" font-size="31" text-anchor="end" font-style="italic" transform="rotate(-45 1921.09 1600.70)">Ndufa1</text>
<rect x="1939.16" y="1121.8" width="25" height="75.6" fill="#0c0d0a"/>
<line x1="1951.66" y1="1554.7" x2="1951.66" y2="1570.2" stroke="#111" stroke-width="3"/>
<text x="1958.66" y="1600.70" font-size="31" text-anchor="end" font-style="italic" transform="rotate(-45 1958.66 1600.70)">Ndufab1</text>
<rect x="1976.73" y="1121.8" width="25" height="74.7" fill="#0c0d0a"/>
<line x1="1989.23" y1="1554.7" x2="1989.23" y2="1570.2" stroke="#111" stroke-width="3"/>
<text x="1996.23" y="1600.70" font-size="31" text-anchor="end" font-style="italic" transform="rotate(-45 1996.23 1600.70)">Vrk1</text>
<rect x="2014.30" y="1121.8" width="25" height="74.3" fill="#0c0d0a"/>
<line x1="2026.80" y1="1554.7" x2="2026.80" y2="1570.2" stroke="#111" stroke-width="3"/>
<text x="2033.80" y="1600.70" font-size="31" text-anchor="end" font-style="italic" transform="rotate(-45 2033.80 1600.70)">Mtor</text>
<rect x="2051.87" y="1121.8" width="25" height="73.1" fill="#0c0d0a"/>
<line x1="2064.37" y1="1554.7" x2="2064.37" y2="1570.2" stroke="#111" stroke-width="3"/>
<text x="2071.37" y="1600.70" font-size="31" text-anchor="end" font-style="italic" transform="rotate(-45 2071.37 1600.70)">Cdh1</text>
<rect x="2089.44" y="1121.8" width="25" height="71.4" fill="#0c0d0a"/>
<line x1="2101.94" y1="1554.7" x2="2101.94" y2="1570.2" stroke="#111" stroke-width="3"/>
<text x="2108.94" y="1600.70" font-size="31" text-anchor="end" font-style="italic" transform="rotate(-45 2108.94 1600.70)">Crkl</text>
<line x1="129.5" y1="1121.8" x2="129.5" y2="1554.7" stroke="#111" stroke-width="2.8"/>
<line x1="113" y1="1121.8" x2="2120.5" y2="1121.8" stroke="#111" stroke-width="3.2"/>
<line x1="113" y1="1554.7" x2="2120.5" y2="1554.7" stroke="#111" stroke-width="3"/>
<text transform="translate(79.51 1135.10) scale(1.1392 1)" font-size="39.5">0</text>
<line x1="113" y1="1230.2" x2="129.5" y2="1230.2" stroke="#111" stroke-width="3"/>
<text transform="translate(64.13 1243.50) scale(0.9365 1)" font-size="39.5">-1</text>
<line x1="113" y1="1338.6" x2="129.5" y2="1338.6" stroke="#111" stroke-width="3"/>
<text transform="translate(63.72 1351.90) scale(1.1777 1)" font-size="39.5">-2</text>
<line x1="113" y1="1447.0" x2="129.5" y2="1447.0" stroke="#111" stroke-width="3"/>
<text transform="translate(63.74 1460.30) scale(1.1704 1)" font-size="39.5">-3</text>
<text transform="translate(63.75 1568.70) scale(1.1644 1)" font-size="39.5">-4</text>
<text transform="translate(34.40 1535.95) rotate(-90) scale(1.0155 1)" font-size="40">Differential gene score</text>
<text transform="translate(0.60 1764.00) scale(1.0669 1)" font-size="64">e)</text>
<text transform="translate(462.82 1817.40) scale(1.0086 1)" font-size="39.4">Isogenic pair #2</text>
<rect x="124.75" y="1841.8" width="28.5" height="269.8" fill="#0c0d0a"/>
<line x1="139.00" y1="2167.75" x2="139.00" y2="2179.25" stroke="#111" stroke-width="3"/>
<text x="147.00" y="2210.75" font-size="30" text-anchor="end" font-style="italic" transform="rotate(-45 147.00 2210.75)">Pole2</text>
<rect x="168.65" y="1841.8" width="28.5" height="247.7" fill="#b22234" stroke="#1f120f" stroke-width="3"/>
<line x1="182.90" y1="2167.75" x2="182.90" y2="2179.25" stroke="#111" stroke-width="3"/>
<text x="195.70" y="2206.75" font-size="30" text-anchor="end" fill="#b22234" font-style="italic" font-weight="bold" transform="rotate(-45 195.70 2206.75)">Slc33a1</text>
<rect x="212.55" y="1841.8" width="28.5" height="210.7" fill="#0c0d0a"/>
<line x1="226.80" y1="2167.75" x2="226.80" y2="2179.25" stroke="#111" stroke-width="3"/>
<text x="234.40" y="2210.75" font-size="30" text-anchor="end" font-style="italic" transform="rotate(-45 234.40 2210.75)">Hmgb1</text>
<rect x="256.45" y="1841.8" width="28.5" height="188.4" fill="#0c0d0a"/>
<line x1="270.70" y1="2167.75" x2="270.70" y2="2179.25" stroke="#111" stroke-width="3"/>
<text x="278.10" y="2210.75" font-size="30" text-anchor="end" font-style="italic" transform="rotate(-45 278.10 2210.75)">Ubc</text>
<rect x="300.35" y="1841.8" width="28.5" height="178.2" fill="#0c0d0a"/>
<line x1="314.60" y1="2167.75" x2="314.60" y2="2179.25" stroke="#111" stroke-width="3"/>
<text x="321.80" y="2210.75" font-size="30" text-anchor="end" font-style="italic" transform="rotate(-45 321.80 2210.75)">Trappc5</text>
<rect x="344.25" y="1841.8" width="28.5" height="134.7" fill="#0c0d0a"/>
<line x1="358.50" y1="2167.75" x2="358.50" y2="2179.25" stroke="#111" stroke-width="3"/>
<text x="365.50" y="2210.75" font-size="30" text-anchor="end" font-style="italic" transform="rotate(-45 365.50 2210.75)">Brd4</text>
<rect x="388.15" y="1841.8" width="28.5" height="134.7" fill="#0c0d0a"/>
<line x1="402.40" y1="2167.75" x2="402.40" y2="2179.25" stroke="#111" stroke-width="3"/>
<text x="409.20" y="2210.75" font-size="30" text-anchor="end" font-style="italic" transform="rotate(-45 409.20 2210.75)">Atp6v0e</text>
<rect x="432.05" y="1841.8" width="28.5" height="134.7" fill="#0c0d0a"/>
<line x1="446.30" y1="2167.75" x2="446.30" y2="2179.25" stroke="#111" stroke-width="3"/>
<text x="452.90" y="2210.75" font-size="30" text-anchor="end" font-style="italic" transform="rotate(-45 452.90 2210.75)">Atp6v1f</text>
<rect x="475.95" y="1841.8" width="28.5" height="130.8" fill="#b22234" stroke="#1f120f" stroke-width="3"/>
<line x1="490.20" y1="2167.75" x2="490.20" y2="2179.25" stroke="#111" stroke-width="3"/>
<text x="501.60" y="2206.75" font-size="30" text-anchor="end" fill="#b22234" font-style="italic" font-weight="bold" transform="rotate(-45 501.60 2206.75)">Abcb7</text>
<rect x="519.85" y="1841.8" width="28.5" height="117.8" fill="#0c0d0a"/>
<line x1="534.10" y1="2167.75" x2="534.10" y2="2179.25" stroke="#111" stroke-width="3"/>
<text x="540.30" y="2210.75" font-size="30" text-anchor="end" font-style="italic" transform="rotate(-45 540.30 2210.75)">Rfc1</text>
<rect x="563.75" y="1841.8" width="28.5" height="111.3" fill="#0c0d0a"/>
<line x1="578.00" y1="2167.75" x2="578.00" y2="2179.25" stroke="#111" stroke-width="3"/>
<text x="584.00" y="2210.75" font-size="30" text-anchor="end" font-style="italic" transform="rotate(-45 584.00 2210.75)">Bcl2l1</text>
<rect x="607.65" y="1841.8" width="28.5" height="106.1" fill="#0c0d0a"/>
<line x1="621.90" y1="2167.75" x2="621.90" y2="2179.25" stroke="#111" stroke-width="3"/>
<text x="627.70" y="2210.75" font-size="30" text-anchor="end" font-style="italic" transform="rotate(-45 627.70 2210.75)">Smg6</text>
<rect x="651.55" y="1841.8" width="28.5" height="97.4" fill="#0c0d0a"/>
<line x1="665.80" y1="2167.75" x2="665.80" y2="2179.25" stroke="#111" stroke-width="3"/>
<text x="671.40" y="2210.75" font-size="30" text-anchor="end" font-style="italic" transform="rotate(-45 671.40 2210.75)">Atp5h</text>
<rect x="695.45" y="1841.8" width="28.5" height="96.8" fill="#0c0d0a"/>
<line x1="709.70" y1="2167.75" x2="709.70" y2="2179.25" stroke="#111" stroke-width="3"/>
<text x="715.10" y="2210.75" font-size="30" text-anchor="end" font-style="italic" transform="rotate(-45 715.10 2210.75)">Smarca4</text>
<rect x="739.35" y="1841.8" width="28.5" height="96.4" fill="#b22234" stroke="#1f120f" stroke-width="3"/>
<line x1="753.60" y1="2167.75" x2="753.60" y2="2179.25" stroke="#111" stroke-width="3"/>
<text x="763.80" y="2206.75" font-size="30" text-anchor="end" fill="#b22234" font-style="italic" font-weight="bold" transform="rotate(-45 763.80 2206.75)">Rad51</text>
<rect x="783.25" y="1841.8" width="28.5" height="92.9" fill="#0c0d0a"/>
<line x1="797.50" y1="2167.75" x2="797.50" y2="2179.25" stroke="#111" stroke-width="3"/>
<text x="802.50" y="2210.75" font-size="30" text-anchor="end" font-style="italic" transform="rotate(-45 802.50 2210.75)">Sod2</text>
<rect x="827.15" y="1841.8" width="28.5" height="92.2" fill="#0c0d0a"/>
<line x1="841.40" y1="2167.75" x2="841.40" y2="2179.25" stroke="#111" stroke-width="3"/>
<text x="846.20" y="2210.75" font-size="30" text-anchor="end" font-style="italic" transform="rotate(-45 846.20 2210.75)">Hsp90ab1</text>
<rect x="871.05" y="1841.8" width="28.5" height="90.9" fill="#b22234" stroke="#1f120f" stroke-width="3"/>
<line x1="885.30" y1="2167.75" x2="885.30" y2="2179.25" stroke="#111" stroke-width="3"/>
<text x="894.90" y="2206.75" font-size="30" text-anchor="end" fill="#b22234" font-style="italic" font-weight="bold" transform="rotate(-45 894.90 2206.75)">Aifm1</text>
<rect x="914.95" y="1841.8" width="28.5" height="87.9" fill="#0c0d0a"/>
<line x1="929.20" y1="2167.75" x2="929.20" y2="2179.25" stroke="#111" stroke-width="3"/>
<text x="933.60" y="2210.75" font-size="30" text-anchor="end" font-style="italic" transform="rotate(-45 933.60 2210.75)">Brca1</text>
<rect x="958.85" y="1841.8" width="28.5" height="87.9" fill="#b22234" stroke="#1f120f" stroke-width="3"/>
<line x1="973.10" y1="2167.75" x2="973.10" y2="2179.25" stroke="#111" stroke-width="3"/>
<text x="982.30" y="2206.75" font-size="30" text-anchor="end" fill="#b22234" font-style="italic" font-weight="bold" transform="rotate(-45 982.30 2206.75)">Arf4</text>
<rect x="1002.75" y="1841.8" width="28.5" height="86.4" fill="#0c0d0a"/>
<line x1="1017.00" y1="2167.75" x2="1017.00" y2="2179.25" stroke="#111" stroke-width="3"/>
<text x="1021.00" y="2210.75" font-size="30" text-anchor="end" font-style="italic" transform="rotate(-45 1021.00 2210.75)">Kat5</text>
<rect x="1046.65" y="1841.8" width="28.5" height="85.7" fill="#0c0d0a"/>
<line x1="1060.90" y1="2167.75" x2="1060.90" y2="2179.25" stroke="#111" stroke-width="3"/>
<text x="1064.70" y="2210.75" font-size="30" text-anchor="end" font-style="italic" transform="rotate(-45 1064.70 2210.75)">Dagla</text>
<rect x="1090.55" y="1841.8" width="28.5" height="85.7" fill="#0c0d0a"/>
<line x1="1104.80" y1="2167.75" x2="1104.80" y2="2179.25" stroke="#111" stroke-width="3"/>
<text x="1108.40" y="2210.75" font-size="30" text-anchor="end" font-style="italic" transform="rotate(-45 1108.40 2210.75)">Ubb</text>
<rect x="1134.45" y="1841.8" width="28.5" height="85.3" fill="#0c0d0a"/>
<line x1="1148.70" y1="2167.75" x2="1148.70" y2="2179.25" stroke="#111" stroke-width="3"/>
<text x="1152.10" y="2210.75" font-size="30" text-anchor="end" font-style="italic" transform="rotate(-45 1152.10 2210.75)">Acy3</text>
<rect x="1178.35" y="1841.8" width="28.5" height="86.6" fill="#b22234" stroke="#1f120f" stroke-width="3"/>
<line x1="1192.60" y1="2167.75" x2="1192.60" y2="2179.25" stroke="#111" stroke-width="3"/>
<text x="1200.80" y="2206.75" font-size="30" text-anchor="end" fill="#b22234" font-style="italic" font-weight="bold" transform="rotate(-45 1200.80 2206.75)">Spcs2</text>
<line x1="117" y1="1841.8" x2="117" y2="2167.75" stroke="#111" stroke-width="2.8"/>
<line x1="104" y1="1841.8" x2="1214.7" y2="1841.8" stroke="#111" stroke-width="3.4"/>
<line x1="104" y1="2167.75" x2="1214.7" y2="2167.75" stroke="#111" stroke-width="3"/>
<text transform="translate(70.50 1855.10) scale(1.0812 1)" font-size="39.5">0</text>
<line x1="104" y1="1906.8" x2="117" y2="1906.8" stroke="#111" stroke-width="3"/>
<line x1="104" y1="1971.7" x2="117" y2="1971.7" stroke="#111" stroke-width="3"/>
<text transform="translate(58.09 1985.00) scale(0.9587 1)" font-size="39.5">-1</text>
<line x1="104" y1="2036.7" x2="117" y2="2036.7" stroke="#111" stroke-width="3"/>
<line x1="104" y1="2101.6" x2="117" y2="2101.6" stroke="#111" stroke-width="3"/>
<text transform="translate(57.91 2114.90) scale(1.0666 1)" font-size="39.5">-2</text>
<text transform="translate(33.20 2195.84) rotate(-90) scale(0.9820 1)" font-size="40">Differential gene score</text>
</svg>
</body></html>
